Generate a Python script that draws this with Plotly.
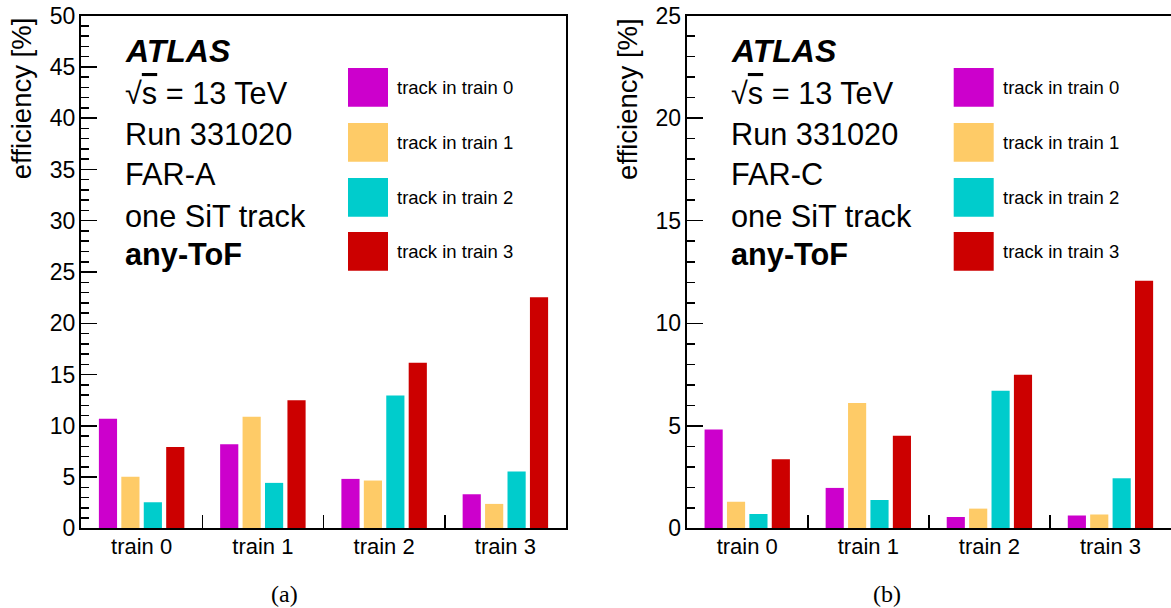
import plotly.graph_objects as go

# ---------------- data ----------------
categories = ["train 0", "train 1", "train 2", "train 3"]
series_names = ["track in train 0", "track in train 1", "track in train 2", "track in train 3"]
series_colors = ["#CC00CC", "#FECB67", "#00CCCC", "#CC0000"]

far_a_track0 = [10.68, 8.21, 4.82, 3.32]
far_a_track1 = [5.02, 10.88, 4.66, 2.38]
far_a_track2 = [2.54, 4.43, 12.96, 5.54]
far_a_track3 = [7.92, 12.48, 16.16, 22.54]

far_c_track0 = [4.82, 1.97, 0.55, 0.62]
far_c_track1 = [1.30, 6.11, 0.96, 0.67]
far_c_track2 = [0.70, 1.38, 6.71, 2.44]
far_c_track3 = [3.37, 4.51, 7.49, 12.07]

panel_a_lines = ["<b><i>ATLAS</i></b>", "√<span style='text-decoration:overline'>s</span> = 13 TeV",
                 "Run 331020", "FAR-A", "one SiT track", "<b>any-ToF</b>"]
panel_b_lines = ["<b><i>ATLAS</i></b>", "√<span style='text-decoration:overline'>s</span> = 13 TeV",
                 "Run 331020", "FAR-C", "one SiT track", "<b>any-ToF</b>"]

y_title = "efficiency [%]"
panel_labels = ["(a)", "(b)"]

# ---------------- layout helpers ----------------
W, H = 1171, 608
FONT = "Liberation Sans, Arial, Helvetica, sans-serif"


def px(x):
    return x / W


def py(y):
    return 1 - y / H


TOP, BOTTOM = 15.7, 528.3
panels = [
    dict(x0=81.0, x1=566.0, ymax=50, series=[far_a_track0, far_a_track1, far_a_track2, far_a_track3],
         lines=panel_a_lines, label=panel_labels[0], label_x=284, mirror_y=True),
    dict(x0=686.7, x1=W, ymax=25, series=[far_c_track0, far_c_track1, far_c_track2, far_c_track3],
         lines=panel_b_lines, label=panel_labels[1], label_x=887, mirror_y=False),
]

fig = go.Figure()
annotations = []
shapes = []

for i, p in enumerate(panels):
    xa = "x" if i == 0 else "x2"
    ya = "y" if i == 0 else "y2"
    for name, color, vals in zip(series_names, series_colors, p["series"]):
        fig.add_trace(go.Bar(x=categories, y=vals, name=name, marker=dict(color=color, line=dict(width=0)),
                             xaxis=xa, yaxis=ya, showlegend=False))

    xkey = "xaxis" if i == 0 else "xaxis2"
    ykey = "yaxis" if i == 0 else "yaxis2"
    fig.update_layout(**{
        xkey: dict(domain=[px(p["x0"]), min(1.0, px(p["x1"]))], anchor=ya, type="category",
                   categoryorder="array", categoryarray=categories, range=[-0.5, 3.5],
                   tickson="boundaries", ticks="inside", ticklen=13, tickwidth=1.5, tickcolor="black",
                   showline=True, linecolor="black", linewidth=2, mirror=True, showgrid=False,
                   automargin=False,
                   tickfont=dict(family=FONT, size=22, color="black"), ticklabelstandoff=-3),
        ykey: dict(domain=[py(BOTTOM), py(TOP)], anchor=xa, range=[0, p["ymax"]], dtick=5, tick0=0,
                   ticks="inside", ticklen=16, tickwidth=1.5, tickcolor="black",
                   minor=dict(dtick=1, ticks="inside", ticklen=8, tickwidth=1.5, tickcolor="black", showgrid=False),
                   showline=True, linecolor="black", linewidth=2, mirror=p["mirror_y"],
                   showgrid=False, zeroline=False, automargin=False,
                   tickfont=dict(family=FONT, size=23, color="black"), ticklabelstandoff=-1),
    })

    # y axis title (ROOT style: aligned to top)
    annotations.append(dict(text=y_title, textangle=-90, xref="paper", yref="paper",
                            x=px(p["x0"] - 59.5), y=py(TOP), xanchor="center", yanchor="top",
                            showarrow=False, font=dict(family=FONT, size=27.5, color="black")))

    # ATLAS label block
    line_centers = [50.8, 93.0, 134.2, 174.7, 216.7, 254.8]
    for j, (txt, yc) in enumerate(zip(p["lines"], line_centers)):
        annotations.append(dict(text=txt, xref="paper", yref="paper", x=px(p["x0"] + 42), y=py(yc),
                                xanchor="left", yanchor="middle", showarrow=False,
                                font=dict(family=FONT, size=32 if j == 0 else 30.7, color="black")))

    # legend boxes + labels
    box_tops = [68.0, 123.0, 178.0, 232.0]
    for name, color, yt in zip(series_names, series_colors, box_tops):
        shapes.append(dict(type="rect", xref="paper", yref="paper",
                           x0=px(p["x0"] + 267), x1=px(p["x0"] + 307), y0=py(yt + 38.7), y1=py(yt),
                           fillcolor=color, line=dict(width=0)))
        annotations.append(dict(text=name, xref="paper", yref="paper", x=px(p["x0"] + 314), y=py(yt + 19.3),
                                xanchor="left", yanchor="middle", showarrow=False,
                                font=dict(family=FONT, size=18.5, color="black")))

    # (a)/(b)
    annotations.append(dict(text=p["label"], xref="paper", yref="paper", x=px(p["label_x"]), y=py(594),
                            xanchor="center", yanchor="middle", showarrow=False,
                            font=dict(family="Liberation Serif, Times New Roman, serif", size=24, color="black")))

fig.update_layout(width=W, height=H, margin=dict(l=0, r=0, t=0, b=0, autoexpand=False),
                  paper_bgcolor="white", plot_bgcolor="white",
                  barmode="group", bargap=0.26, bargroupgap=0.19,
                  annotations=annotations, shapes=shapes)

fig.write_html("out.html", config={"displayModeBar": False, "staticPlot": True},
               post_script="document.body.style.margin='0';document.body.style.padding='0';"
                           "document.body.style.overflow='hidden';")
